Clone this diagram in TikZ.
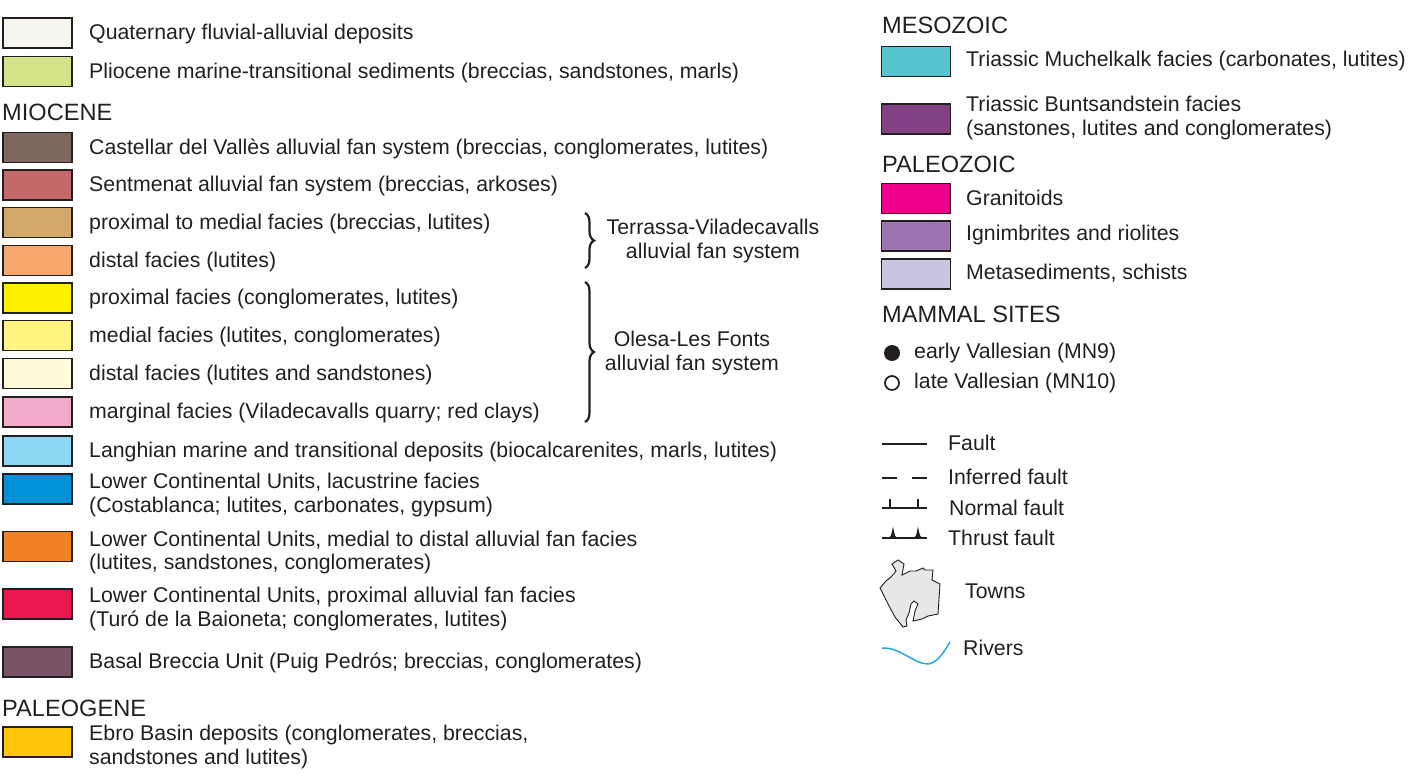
\documentclass[tikz,border=0pt]{standalone}
\usepackage{fontspec}
\setmainfont{Liberation Sans}
\usetikzlibrary{positioning,decorations.pathreplacing}

\definecolor{ink}{RGB}{35,31,32}
\definecolor{quat}{RGB}{246,246,238}
\definecolor{plio}{RGB}{212,228,138}
\definecolor{castellar}{RGB}{126,103,95}
\definecolor{sentmenat}{RGB}{198,105,106}
\definecolor{terrprox}{RGB}{210,169,106}
\definecolor{terrdist}{RGB}{247,168,110}
\definecolor{olesaprox}{RGB}{255,240,0}
\definecolor{olesamed}{RGB}{255,245,128}
\definecolor{olesadist}{RGB}{255,250,217}
\definecolor{olesamarg}{RGB}{243,171,203}
\definecolor{langhian}{RGB}{141,216,245}
\definecolor{lcular}{RGB}{0,146,216}
\definecolor{lcumed}{RGB}{242,129,35}
\definecolor{lcuprox}{RGB}{236,22,81}
\definecolor{basal}{RGB}{123,83,102}
\definecolor{ebro}{RGB}{255,198,11}
\definecolor{muschel}{RGB}{86,197,208}
\definecolor{bunt}{RGB}{131,65,132}
\definecolor{granit}{RGB}{236,0,140}
\definecolor{ignim}{RGB}{158,115,177}
\definecolor{metased}{RGB}{199,197,226}
\definecolor{townfill}{RGB}{230,231,232}
\definecolor{riverblue}{RGB}{39,170,225}

\tikzset{
  unitbox/.style={draw=ink, line width=1.8pt, minimum width=69pt, minimum height=30pt, inner sep=0pt},
  unittext/.style={anchor=west, text=ink, font=\fontsize{21.3}{23.5}\selectfont, align=left, inner sep=0pt},
  heading/.style={anchor=west, text=ink, font=\fontsize{23.6}{26}\selectfont, inner sep=0pt},
  fanbrace/.style={draw=ink, line width=2.2pt, decorate, decoration={brace, amplitude=9pt}},
  faultline/.style={draw=ink, line width=2.6pt},
}

\begin{document}
\begin{tikzpicture}[x=1pt, y=-1pt]
  \useasboundingbox (0,0) rectangle (1408,772);

  % Headings
  \node[heading] (miocene) at (2,112) {MIOCENE};
  \node[heading] (paleogene) at (2,708) {PALEOGENE};
  \node[heading] (mesozoic) at (882,25) {MESOZOIC};
  \node[heading] (paleozoic) at (882,164) {PALEOZOIC};
  \node[heading] (mammal) at (882,314) {MAMMAL SITES};

  % Left column of units
  \foreach \yy/\dy/\col/\txt [count=\i] in {
      33/1/quat/{Quaternary fluvial-alluvial deposits},
      71.5/1/plio/{Pliocene marine-transitional sediments (breccias, sandstones, marls)},
      147.5/1/castellar/{Castellar del Vallès alluvial fan system (breccias, conglomerates, lutites)},
      185/1/sentmenat/{Sentmenat alluvial fan system (breccias, arkoses)},
      222.5/1/terrprox/{proximal to medial facies (breccias, lutites)},
      260.5/1/terrdist/{distal facies (lutites)},
      298/1/olesaprox/{proximal facies (conglomerates, lutites)},
      335.5/1/olesamed/{medial facies (lutites, conglomerates)},
      373.5/1/olesadist/{distal facies (lutites and sandstones)},
      412/1/olesamarg/{marginal facies (Viladecavalls quarry; red clays)},
      451/1/langhian/{Langhian marine and transitional deposits (biocalcarenites, marls, lutites)},
      489/6/lcular/{Lower Continental Units, lacustrine facies\\(Costablanca; lutites, carbonates, gypsum)},
      546.5/6/lcumed/{Lower Continental Units, medial to distal alluvial fan facies\\(lutites, sandstones, conglomerates)},
      604/5/lcuprox/{Lower Continental Units, proximal alluvial fan facies\\(Turó de la Baioneta; conglomerates, lutites)},
      662/1/basal/{Basal Breccia Unit (Puig Pedrós; breccias, conglomerates)},
      742/5/ebro/{Ebro Basin deposits (conglomerates, breccias,\\sandstones and lutites)}} {
    \node[unitbox, fill=\col] (lbox\i) at (37.5,\yy) {};
    \node[unittext] (ltxt\i) at (89,\yy+\dy) {\txt};
  }

  % Right column of units
  \foreach \yy/\col/\txt [count=\i] in {
      61.5/muschel/{Triassic Muchelkalk facies (carbonates, lutites)},
      119/bunt/{Triassic Buntsandstein facies\\(sanstones, lutites and conglomerates)},
      198.5/granit/{Granitoids},
      236/ignim/{Ignimbrites and riolites},
      274/metased/{Metasediments, schists}} {
    \node[unitbox, fill=\col] (rbox\i) at (916,\yy) {};
    \node[unittext] (rtxt\i) at (966,\yy-1) {\txt};
  }

  % Fan system braces
  \coordinate (terrtop) at (585,213);
  \coordinate (terrbot) at (585,268);
  \coordinate (olestop) at (585,282);
  \coordinate (olesbot) at (585,422);
  \draw[fanbrace] (terrtop) -- (terrbot);
  \draw[fanbrace] (olestop) -- (olesbot);
  \node[unittext, anchor=center, align=center] (terrlbl) at (713,241) {Terrassa-Viladecavalls\\alluvial fan system};
  \node[unittext, anchor=center, align=center] (oleslbl) at (692,353) {Olesa-Les Fonts\\alluvial fan system};

  % Mammal sites
  \node[circle, fill=ink, minimum size=16pt, inner sep=0pt] (early) at (892,353) {};
  \node[circle, draw=ink, line width=1.7pt, minimum size=14pt, inner sep=0pt] (late) at (892,383) {};
  \node[unittext] (earlytxt) at (914,353) {early Vallesian (MN9)};
  \node[unittext] (latetxt) at (914,383) {late Vallesian (MN10)};

  % Fault symbols
  \draw[faultline] (882,444) -- (927,444);
  \draw[faultline] (882,478) -- (897,478);
  \draw[faultline] (912,478) -- (927,478);
  \draw[faultline] (882,508) -- (927,508);
  \foreach \x in {890,918} {
    \draw[faultline] (\x,508) -- (\x,498.5);
  }
  \draw[faultline] (882,538) -- (927,538);
  \foreach \x in {893,918} {
    \fill[ink] (\x-6,538) .. controls (\x-2,537) .. (\x,526.5) .. controls (\x+2,537) .. (\x+6,538) -- cycle;
  }
  \node[unittext] (fault) at (948,443) {Fault};
  \node[unittext] (inferred) at (948,477) {Inferred fault};
  \node[unittext] (normal) at (949,508) {Normal fault};
  \node[unittext] (thrust) at (948,538) {Thrust fault};

  % Towns
  \draw[fill=townfill, draw=ink, line width=0.9pt]
    (892,564) -- (898,560) -- (904,564) -- (902,575) -- (910,571) -- (916,571)
    -- (923,568) -- (925,570) -- (933,570) -- (932,580) -- (940,584) -- (938,614)
    -- (928,616) -- (922,619) -- (913,621) -- (915,611) -- (918,604) -- (914,601)
    -- (911,604) -- (909,613) -- (906,620) -- (907,626) -- (903,627) -- (899,622)
    -- (895,617) -- (888,604) -- (880,588) -- (886,581) -- (891,577) -- (896,571)
    -- cycle;
  \node[unittext] (towns) at (965,591) {Towns};

  % Rivers
  \draw[riverblue, line width=1.5pt] (882,648) .. controls (900,647) and (914,664) .. (928,664)
    .. controls (938,663) and (945,650) .. (950,642);
  \node[unittext] (rivers) at (963,648) {Rivers};
\end{tikzpicture}
\end{document}
